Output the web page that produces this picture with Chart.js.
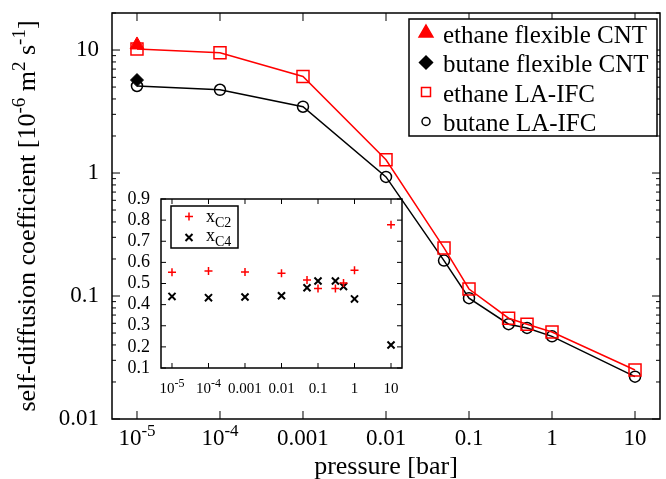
<!DOCTYPE html>
<html>
<head>
<meta charset="utf-8">
<script src="https://cdn.jsdelivr.net/npm/chart.js@4"></script>
<style>
  html, body { margin: 0; padding: 0; background: #fff; overflow: hidden; width: 666px; height: 479px; }
  #wrap { position: relative; width: 666px; height: 479px; overflow: hidden; }
  #mainChart { position: absolute; left: 0; top: 0; }
  #insetChart { position: absolute; left: 115px; top: 185px; }
</style>
</head>
<body>
<div id="wrap">
  <canvas id="mainChart" width="670" height="479"></canvas>
  <canvas id="insetChart" width="295" height="210"></canvas>
</div>
<script>
// pressure values [bar]
const pressure = [1e-5, 1e-4, 0.001, 0.01, 0.05, 0.1, 0.3, 0.5, 1, 10];

// self-diffusion coefficients [1e-6 m2/s]
const ethaneLAIFC = [10.2, 9.5, 6.1, 1.28, 0.246, 0.114, 0.066, 0.059, 0.051, 0.025];
const butaneLAIFC = [5.1, 4.75, 3.46, 0.93, 0.194, 0.096, 0.059, 0.055, 0.047, 0.0221];
const flexPressure = [1e-5];
const ethaneFlexCNT = [11.0];
const butaneFlexCNT = [5.7];

// inset: mole fractions
const xC2 = [0.553, 0.559, 0.555, 0.549, 0.516, 0.476, 0.476, 0.502, 0.563, 0.778];
const xC4 = [0.439, 0.433, 0.436, 0.442, 0.480, 0.512, 0.512, 0.486, 0.427, 0.209];

// ticks
const xTicks = [1e-5, 1e-4, 0.001, 0.01, 0.1, 1, 10];
const xTickLabels = [['10', '-5'], ['10', '-4'], ['0.001'], ['0.01'], ['0.1'], ['1'], ['10']];
const yTicks = [0.01, 0.1, 1, 10];
const yTickLabels = ['0.01', '0.1', '1', '10'];
const insetYTicks = [0.1, 0.2, 0.3, 0.4, 0.5, 0.6, 0.7, 0.8, 0.9];
const insetYTickLabels = ['0.1', '0.2', '0.3', '0.4', '0.5', '0.6', '0.7', '0.8', '0.9'];

const SERIF = '"Liberation Serif", "Times New Roman", serif';
const RED = '#ff0000';

function drawRich(ctx, parts, x, y, align) {
    let total = 0;
    parts.forEach(p => {
        ctx.font = p.size + 'px ' + SERIF;
        p.w = ctx.measureText(p.t).width;
        total += p.w;
    });
    let cx = align === 'center' ? x - total / 2 : (align === 'right' ? x - total : x);
    ctx.textAlign = 'left';
    ctx.textBaseline = 'alphabetic';
    parts.forEach(p => {
        ctx.font = p.size + 'px ' + SERIF;
        ctx.fillText(p.t, cx, y + (p.dy || 0));
        cx += p.w;
    });
}

function marker(ctx, style, x, y, r, color, filled, lw) {
    ctx.save();
    ctx.strokeStyle = color;
    ctx.fillStyle = color;
    ctx.lineWidth = lw || 1.5;
    ctx.beginPath();
    if (style === 'triangle') {
        ctx.moveTo(x, y - r);
        ctx.lineTo(x + r * 0.866, y + r * 0.5);
        ctx.lineTo(x - r * 0.866, y + r * 0.5);
        ctx.closePath();
    } else if (style === 'diamond') {
        ctx.moveTo(x - r, y);
        ctx.lineTo(x, y - r);
        ctx.lineTo(x + r, y);
        ctx.lineTo(x, y + r);
        ctx.closePath();
    } else if (style === 'square') {
        ctx.rect(x - r, y - r, 2 * r, 2 * r);
    } else if (style === 'circle') {
        ctx.arc(x, y, r, 0, Math.PI * 2);
    } else if (style === 'plus') {
        ctx.moveTo(x - r, y); ctx.lineTo(x + r, y);
        ctx.moveTo(x, y - r); ctx.lineTo(x, y + r);
    } else if (style === 'times') {
        ctx.moveTo(x - r, y - r); ctx.lineTo(x + r, y + r);
        ctx.moveTo(x + r, y - r); ctx.lineTo(x - r, y + r);
    }
    if (filled) ctx.fill();
    ctx.stroke();
    ctx.restore();
}

function logTicks(ctx, yScale, area, major, minor) {
    // major + minor log ticks on left and right
    const lo = Math.floor(Math.log10(yScale.min));
    const hi = Math.ceil(Math.log10(yScale.max));
    for (let e = lo; e <= hi; e++) {
        for (let k = 1; k <= 9; k++) {
            const v = k * Math.pow(10, e);
            if (v < yScale.min * 0.999 || v > yScale.max * 1.001) continue;
            const py = yScale.getPixelForValue(v);
            const len = k === 1 ? major : minor;
            ctx.beginPath();
            ctx.moveTo(area.left, py); ctx.lineTo(area.left + len, py);
            ctx.moveTo(area.right, py); ctx.lineTo(area.right - len, py);
            ctx.stroke();
        }
    }
}

const mainDecor = {
    id: 'mainDecor',
    afterDraw(chart) {
        const ctx = chart.ctx;
        const a = chart.chartArea;
        const xs = chart.scales.x, ys = chart.scales.y;
        ctx.save();
        ctx.strokeStyle = '#000';
        ctx.fillStyle = '#000';

        // ticks
        ctx.lineWidth = 1;
        logTicks(ctx, ys, a, 8, 4);
        xTicks.forEach(v => {
            const px = xs.getPixelForValue(v);
            ctx.beginPath();
            ctx.moveTo(px, a.bottom); ctx.lineTo(px, a.bottom - 8);
            ctx.moveTo(px, a.top); ctx.lineTo(px, a.top + 8);
            ctx.stroke();
        });

        // frame
        ctx.lineWidth = 1.5;
        ctx.strokeRect(a.left, a.top, a.right - a.left, a.bottom - a.top);

        // x tick labels
        xTicks.forEach((v, i) => {
            const px = xs.getPixelForValue(v);
            const lab = xTickLabels[i];
            const parts = [{ t: lab[0], size: 23 }];
            if (lab[1]) parts.push({ t: lab[1], size: 17, dy: -9 });
            drawRich(ctx, parts, px, 445, 'center');
        });

        // axis titles
        drawRich(ctx, [{ t: 'pressure [bar]', size: 26 }], (a.left + a.right) / 2, 474, 'center');
        ctx.save();
        ctx.translate(35, (a.top + a.bottom) / 2);
        ctx.rotate(-Math.PI / 2);
        drawRich(ctx, [
            { t: 'self-diffusion coefficient [10', size: 26 },
            { t: '-6', size: 19, dy: -10 },
            { t: ' m', size: 26 },
            { t: '2', size: 19, dy: -10 },
            { t: ' s', size: 26 },
            { t: '-1', size: 19, dy: -10 },
            { t: ']', size: 26 }
        ], 0, 0, 'center');
        ctx.restore();

        // legend
        ctx.lineWidth = 1.5;
        ctx.fillStyle = '#fff';
        ctx.fillRect(409, 19, 248, 117);
        ctx.strokeRect(409, 19, 248, 117);
        const rows = [
            { label: 'ethane flexible CNT', style: 'triangle', r: 8, color: RED, filled: true },
            { label: 'butane flexible CNT', style: 'diamond', r: 6.5, color: '#000', filled: true },
            { label: 'ethane LA-IFC', style: 'square', r: 4.5, color: RED, filled: false },
            { label: 'butane LA-IFC', style: 'circle', r: 4, color: '#000', filled: false }
        ];
        rows.forEach((row, i) => {
            const cy = 33 + i * 29.5;
            marker(ctx, row.style, 426, cy, row.r, row.color, row.filled, 1.5);
            ctx.fillStyle = '#000';
            drawRich(ctx, [{ t: row.label, size: 25 }], 443, cy + 9.5, 'left');
        });
        ctx.restore();
    }
};

new Chart(document.getElementById('mainChart'), {
    type: 'line',
    data: {
        datasets: [
            {
                label: 'ethane flexible CNT',
                data: flexPressure.map((p, i) => ({ x: p, y: ethaneFlexCNT[i] })),
                showLine: false,
                pointStyle: 'triangle',
                pointRadius: 8,
                backgroundColor: RED,
                borderColor: RED,
                pointBorderWidth: 1
            },
            {
                label: 'butane flexible CNT',
                data: flexPressure.map((p, i) => ({ x: p, y: butaneFlexCNT[i] })),
                showLine: false,
                pointStyle: 'rectRot',
                pointRadius: 6.5,
                backgroundColor: '#000',
                borderColor: '#000',
                pointBorderWidth: 1
            },
            {
                label: 'ethane LA-IFC',
                data: pressure.map((p, i) => ({ x: p, y: ethaneLAIFC[i] })),
                pointStyle: 'rect',
                pointRadius: 8.5,
                borderColor: RED,
                backgroundColor: 'rgba(0,0,0,0)',
                pointBackgroundColor: 'rgba(0,0,0,0)',
                borderWidth: 1.5,
                pointBorderWidth: 1.5,
                tension: 0
            },
            {
                label: 'butane LA-IFC',
                data: pressure.map((p, i) => ({ x: p, y: butaneLAIFC[i] })),
                pointStyle: 'circle',
                pointRadius: 5.5,
                borderColor: '#000',
                backgroundColor: 'rgba(0,0,0,0)',
                pointBackgroundColor: 'rgba(0,0,0,0)',
                borderWidth: 1.5,
                pointBorderWidth: 1.5,
                tension: 0
            }
        ]
    },
    options: {
        responsive: false,
        animation: false,
        layout: { padding: { top: 13, right: 2, left: 0, bottom: 0 } },
        plugins: { legend: { display: false }, tooltip: { enabled: false } },
        scales: {
            x: {
                type: 'logarithmic',
                min: 5e-6,
                max: 20,
                grid: { display: false, drawTicks: false },
                border: { display: false },
                ticks: { display: false },
                afterBuildTicks: s => { s.ticks = xTicks.map(v => ({ value: v })); },
                afterFit: s => { s.height = 60; s.paddingLeft = 0; s.paddingRight = 0; }
            },
            y: {
                type: 'logarithmic',
                min: 0.01,
                max: 20,
                grid: { display: false, drawTicks: false },
                border: { display: false },
                ticks: {
                    color: '#000',
                    padding: 13,
                    autoSkip: false,
                    font: { family: SERIF, size: 23 },
                    callback: v => yTickLabels[yTicks.indexOf(v)]
                },
                afterBuildTicks: s => { s.ticks = yTicks.map(v => ({ value: v })); },
                afterFit: s => { s.width = 112; s.paddingTop = 0; s.paddingBottom = 0; }
            }
        }
    },
    plugins: [mainDecor]
});

const insetDecor = {
    id: 'insetDecor',
    afterDraw(chart) {
        const ctx = chart.ctx;
        const a = chart.chartArea;
        const xs = chart.scales.x, ys = chart.scales.y;
        ctx.save();
        ctx.strokeStyle = '#000';
        ctx.fillStyle = '#000';
        ctx.lineWidth = 1;
        insetYTicks.forEach(v => {
            const py = ys.getPixelForValue(v);
            ctx.beginPath();
            ctx.moveTo(a.left, py); ctx.lineTo(a.left + 5, py);
            ctx.moveTo(a.right, py); ctx.lineTo(a.right - 5, py);
            ctx.stroke();
        });
        xTicks.forEach((v, i) => {
            const px = xs.getPixelForValue(v);
            ctx.beginPath();
            ctx.moveTo(px, a.bottom); ctx.lineTo(px, a.bottom - 5);
            ctx.moveTo(px, a.top); ctx.lineTo(px, a.top + 5);
            ctx.stroke();
            const lab = xTickLabels[i];
            const parts = [{ t: lab[0], size: 15 }];
            if (lab[1]) parts.push({ t: lab[1], size: 12, dy: -6 });
            drawRich(ctx, parts, px, 208, 'center');
        });
        ctx.lineWidth = 1.5;
        ctx.strokeRect(a.left, a.top, a.right - a.left, a.bottom - a.top);

        // inset legend
        ctx.fillStyle = '#fff';
        ctx.fillRect(56, 21, 67, 42);
        ctx.strokeRect(56, 21, 67, 42);
        marker(ctx, 'plus', 74, 31.5, 4, RED, false, 1.5);
        marker(ctx, 'times', 74, 52.5, 3.5, '#000', false, 2);
        ctx.fillStyle = '#000';
        drawRich(ctx, [{ t: 'x', size: 18 }, { t: 'C2', size: 14, dy: 5 }], 91, 36.5, 'left');
        drawRich(ctx, [{ t: 'x', size: 18 }, { t: 'C4', size: 14, dy: 5 }], 91, 56, 'left');
        ctx.restore();
    }
};

new Chart(document.getElementById('insetChart'), {
    type: 'scatter',
    data: {
        datasets: [
            {
                label: 'xC2',
                data: pressure.map((p, i) => ({ x: p, y: xC2[i] })),
                pointStyle: 'cross',
                pointRadius: 4,
                borderColor: RED,
                pointBorderWidth: 1.5
            },
            {
                label: 'xC4',
                data: pressure.map((p, i) => ({ x: p, y: xC4[i] })),
                pointStyle: 'crossRot',
                pointRadius: 5,
                borderColor: '#000',
                pointBorderWidth: 2
            }
        ]
    },
    options: {
        responsive: false,
        animation: false,
        layout: { padding: { top: 14, right: 8, left: 0, bottom: 0 } },
        plugins: { legend: { display: false }, tooltip: { enabled: false } },
        scales: {
            x: {
                type: 'logarithmic',
                min: 5e-6,
                max: 20,
                grid: { display: false, drawTicks: false },
                border: { display: false },
                ticks: { display: false },
                afterBuildTicks: s => { s.ticks = xTicks.map(v => ({ value: v })); },
                afterFit: s => { s.height = 27; s.paddingLeft = 0; s.paddingRight = 0; }
            },
            y: {
                min: 0.1,
                max: 0.9,
                grid: { display: false, drawTicks: false },
                border: { display: false },
                ticks: {
                    color: '#000',
                    padding: 11,
                    autoSkip: false,
                    font: { family: SERIF, size: 18 },
                    callback: v => insetYTickLabels[insetYTicks.findIndex(t => Math.abs(t - v) < 1e-6)]
                },
                afterBuildTicks: s => { s.ticks = insetYTicks.map(v => ({ value: v })); },
                afterFit: s => { s.width = 46; s.paddingTop = 0; s.paddingBottom = 0; }
            }
        }
    },
    plugins: [insetDecor]
});
</script>
</body>
</html>
